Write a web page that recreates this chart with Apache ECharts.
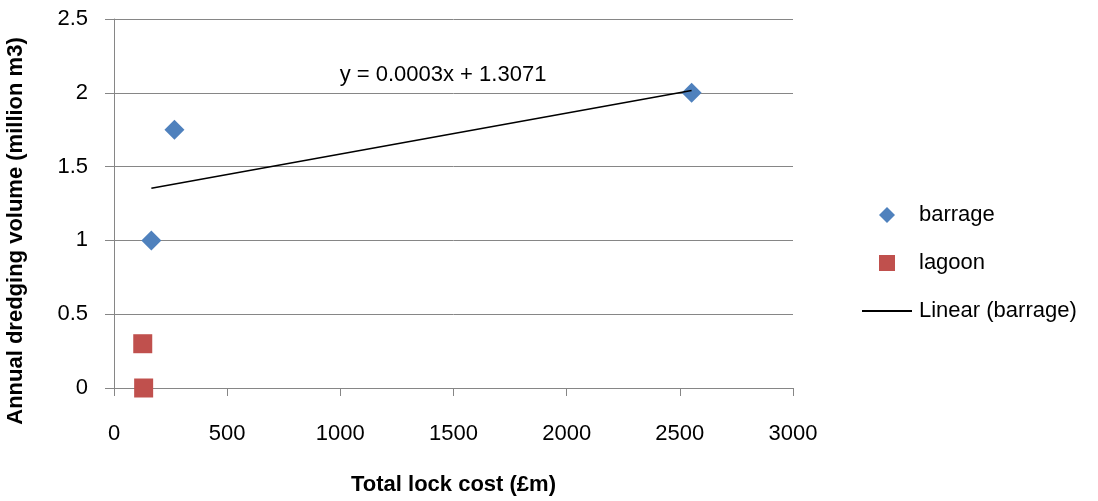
<!DOCTYPE html>
<html>
<head>
<meta charset="utf-8">
<script src="https://cdn.jsdelivr.net/npm/echarts@6/dist/echarts.min.js"></script>
<style>
  html, body { margin: 0; padding: 0; background: #fff; }
  #chart { width: 1098px; height: 501px; }
</style>
</head>
<body>
<div id="chart"></div>
<script>
// Lock cost (£m) against annual dredging volume (million m3)
const barrageCost = [165, 267, 2552];
const barrageDredge = [1.0, 1.75, 2.0];
const lagoonCost = [127, 131];
const lagoonDredge = [0.3, 0.0];
const xTicks = [0, 500, 1000, 1500, 2000, 2500, 3000];
const yTicks = [0, 0.5, 1, 1.5, 2, 2.5];

// Least-squares fit through the barrage points
function linearFit(xs, ys) {
  const n = xs.length;
  const mx = xs.reduce((a, b) => a + b, 0) / n;
  const my = ys.reduce((a, b) => a + b, 0) / n;
  let sxy = 0, sxx = 0;
  for (let i = 0; i < n; i++) {
    sxy += (xs[i] - mx) * (ys[i] - my);
    sxx += (xs[i] - mx) * (xs[i] - mx);
  }
  const slope = sxy / sxx;
  return { slope, intercept: my - slope * mx };
}
const fit = linearFit(barrageCost, barrageDredge);
const xMin = Math.min(...barrageCost), xMax = Math.max(...barrageCost);
const trendData = [[xMin, fit.intercept + fit.slope * xMin], [xMax, fit.intercept + fit.slope * xMax]];
const equation = 'y = ' + fit.slope.toFixed(4) + 'x + ' + fit.intercept.toFixed(4);

const FONT = '"Liberation Sans", Arial, sans-serif';
const GRID = '#868686';
const legendText = { fontFamily: FONT, fontSize: 22, color: '#000', lineHeight: 22 };

const chart = echarts.init(document.getElementById('chart'));
chart.setOption({
  animation: false,
  backgroundColor: '#fff',
  grid: { left: 114, right: 305, top: 19, bottom: 109, containLabel: false },
  xAxis: {
    type: 'value',
    min: xTicks[0], max: xTicks[xTicks.length - 1], interval: 500,
    name: 'Total lock cost (£m)',
    nameLocation: 'middle',
    nameGap: 86,
    nameTextStyle: { fontFamily: FONT, fontSize: 22, fontWeight: 'bold', color: '#000' },
    axisLine: { show: true, lineStyle: { color: GRID, width: 1 } },
    axisTick: { show: true, length: 8, lineStyle: { color: GRID } },
    axisLabel: { fontFamily: FONT, fontSize: 22, color: '#000', margin: 35, formatter: v => String(v) },
    splitLine: { show: false }
  },
  yAxis: {
    type: 'value',
    min: yTicks[0], max: yTicks[yTicks.length - 1], interval: 0.5,
    axisLine: { show: true, lineStyle: { color: GRID, width: 1 } },
    axisTick: { show: true, length: 9, lineStyle: { color: GRID } },
    axisLabel: { fontFamily: FONT, fontSize: 22, color: '#000', margin: 26, formatter: v => String(v) },
    splitLine: { show: true, lineStyle: { color: GRID, width: 1 } }
  },
  legend: [
    {
      data: ['barrage'], left: 879, top: 204, padding: 0,
      itemWidth: 16, itemHeight: 16,
      textStyle: Object.assign({ padding: [0, 0, 0, 19] }, legendText)
    },
    {
      data: ['lagoon'], left: 879, top: 252, padding: 0,
      itemWidth: 16, itemHeight: 16,
      textStyle: Object.assign({ padding: [0, 0, 0, 19] }, legendText)
    },
    {
      data: [{ name: 'Linear (barrage)', icon: 'rect' }], left: 862, top: 300, padding: 0,
      itemWidth: 50, itemHeight: 2,
      textStyle: Object.assign({ padding: [0, 0, 0, 2] }, legendText)
    }
  ],
  graphic: [
    {
      type: 'text', x: 16, y: 231, rotation: Math.PI / 2,
      style: {
        text: 'Annual dredging volume (million m3)',
        font: 'bold 22px ' + FONT, fill: '#000',
        align: 'center', verticalAlign: 'middle'
      }
    },
    {
      type: 'text', x: 443, y: 75,
      style: {
        text: equation,
        font: '22px ' + FONT, fill: '#000',
        align: 'center', verticalAlign: 'middle'
      }
    }
  ],
  series: [
    {
      name: 'barrage', type: 'scatter', clip: false,
      symbol: 'diamond', symbolSize: 20,
      itemStyle: { color: '#4f81bd', opacity: 1 },
      data: barrageCost.map((c, i) => [c, barrageDredge[i]]),
      z: 3
    },
    {
      name: 'lagoon', type: 'scatter', clip: false,
      symbol: 'rect', symbolSize: 19,
      itemStyle: { color: '#c0504d', opacity: 1 },
      data: lagoonCost.map((c, i) => [c, lagoonDredge[i]]),
      z: 3
    },
    {
      name: 'Linear (barrage)', type: 'line',
      symbol: 'none', color: '#000',
      lineStyle: { color: '#000', width: 1.5 },
      itemStyle: { color: '#000' },
      data: trendData,
      z: 4
    }
  ]
});
</script>
</body>
</html>
